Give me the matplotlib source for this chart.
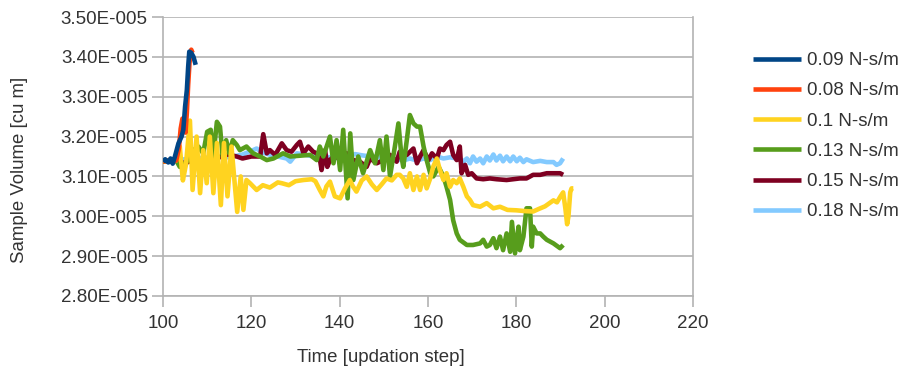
import numpy as np
import matplotlib
matplotlib.use("Agg")
import matplotlib.pyplot as plt
from matplotlib.ticker import FuncFormatter, MultipleLocator

plt.rcParams['font.family'] = ['Liberation Sans', 'DejaVu Sans']

# values, y in units of 1e-5 cu m
x_009 = [100, 100.5, 101.2, 101.7, 102.2, 102.7, 103.5, 104.2, 104.6, 105.0, 105.4, 105.7, 105.95, 106.4, 106.9, 107.4]
y_009 = [3.137, 3.143, 3.135, 3.145, 3.132, 3.150, 3.183, 3.200, 3.217, 3.275, 3.317, 3.375, 3.413, 3.410, 3.400, 3.380]

x_008 = [100, 101, 102, 103, 103.6, 104.0, 104.4, 104.8, 105.1, 105.4, 105.7, 106.0, 106.4, 106.7]
y_008 = [3.137, 3.140, 3.138, 3.140, 3.170, 3.220, 3.245, 3.240, 3.210, 3.260, 3.330, 3.385, 3.418, 3.410]

x_010 = [100, 101, 102, 103, 103.8, 104.5, 105.2, 106.1, 106.7, 107.6, 108.4, 109.1, 109.9, 110.6,
         111.4, 112.2, 113.1, 113.8, 114.6, 115.5, 116.8, 117.6, 118.2, 118.9, 119.7, 121.2, 122.6,
         124.2, 126.0, 126.9, 128.5, 130.0, 131.8, 133.7, 134.5, 135.5, 136.3, 137.0, 137.8, 138.9,
         140.1, 141.2, 142.3, 143.0, 143.8, 145.0, 146.1, 147.3, 148.4, 149.5, 150.6, 151.8, 152.9,
         153.6, 154.4, 155.2, 155.9, 156.7, 157.5, 158.2, 159.0, 159.7, 160.5, 161.2, 162.0, 162.7,
         163.5, 164.2, 165.0, 165.7, 166.5, 167.2, 168.0, 168.8, 169.5, 170.2, 171.8, 173.3, 174.8,
         176.3, 178.0, 180.0, 182.0, 183.8, 185.0, 186.5, 188.4, 189.2, 190.0, 190.6, 191.1, 191.5,
         191.8, 192.2, 192.5, 192.9]
y_010 = [3.137, 3.140, 3.138, 3.140, 3.175, 3.090, 3.130, 3.240, 3.066, 3.200, 3.058, 3.166, 3.083, 3.200,
         3.058, 3.184, 3.028, 3.184, 3.050, 3.175, 3.011, 3.100, 3.016, 3.091, 3.083, 3.066, 3.078,
         3.072, 3.085, 3.083, 3.078, 3.088, 3.091, 3.093, 3.088, 3.066, 3.050, 3.075, 3.087, 3.050,
         3.045, 3.070, 3.091, 3.075, 3.062, 3.090, 3.100, 3.080, 3.066, 3.080, 3.095, 3.090, 3.104,
         3.104, 3.095, 3.074, 3.108, 3.066, 3.100, 3.066, 3.104, 3.070, 3.095, 3.125, 3.145, 3.116,
         3.091, 3.108, 3.074, 3.091, 3.083, 3.095, 3.074, 3.050, 3.041, 3.028, 3.024, 3.033, 3.020,
         3.024, 3.016, 3.015, 3.013, 3.012, 3.018, 3.025, 3.040, 3.035, 3.050, 3.060, 3.020, 2.980,
         3.000, 3.060, 3.070, 3.070]

x_013 = [100, 101, 102, 103, 103.8, 105.4, 106.1, 106.9, 108.0, 109.1, 110.0, 110.8, 111.4, 112.2,
         112.9, 113.5, 114.3, 115.0, 115.8, 116.7, 117.4, 118.9, 120.4, 122.0, 123.5, 125.0, 127.2,
         128.8, 131.0, 133.3, 134.8, 135.5, 136.3, 137.8, 138.6, 139.3, 140.1, 140.8, 141.8, 142.4,
         143.1, 144.2, 145.3, 146.9, 148.0, 149.1, 149.9, 150.6, 151.4, 152.5, 153.3, 154.0, 154.4,
         155.2, 155.9, 156.7, 157.5, 158.2, 159.0, 159.7, 160.5, 161.2, 162.4, 163.5, 164.2, 165.0,
         165.7, 166.5, 167.2, 168.8, 170.2, 171.8, 172.5, 173.3, 174.0, 174.8, 175.5, 176.3, 177.0,
         177.8, 178.6, 179.0, 179.7, 180.5, 180.8, 181.6, 182.3, 183.1, 183.5, 183.8, 184.6, 185.4,
         186.1, 186.9, 188.4, 189.9, 190.6]
y_013 = [3.137, 3.140, 3.138, 3.140, 3.124, 3.137, 3.150, 3.166, 3.175, 3.158, 3.212, 3.217, 3.150, 3.237,
         3.225, 3.150, 3.191, 3.158, 3.191, 3.179, 3.166, 3.175, 3.158, 3.150, 3.141, 3.145, 3.158,
         3.150, 3.152, 3.154, 3.141, 3.175, 3.150, 3.200, 3.133, 3.191, 3.116, 3.217, 3.045, 3.208,
         3.091, 3.150, 3.108, 3.166, 3.133, 3.191, 3.116, 3.200, 3.100, 3.175, 3.233, 3.150, 3.124,
         3.191, 3.254, 3.233, 3.225, 3.225, 3.175, 3.141, 3.108, 3.100, 3.124, 3.100, 3.074, 3.041,
         2.990, 2.957, 2.941, 2.928, 2.928, 2.932, 2.941, 2.924, 2.928, 2.945, 2.920, 2.949, 2.915,
         2.957, 2.911, 2.986, 2.907, 2.974, 2.915, 2.949, 3.020, 3.020, 2.924, 2.974, 2.957, 2.957,
         2.949, 2.941, 2.932, 2.920, 2.928]

x_015 = [100, 102, 103.5, 105.0, 106.5, 108.0, 110.0, 112.0, 114.7, 116.7, 118.0, 120.0, 122.0, 122.7,
         123.5, 124.2, 125.4, 126.9, 128.0, 129.1, 130.3, 131.0, 131.8, 132.9, 134.0, 134.8, 135.5,
         135.9, 136.7, 137.2, 137.8, 138.6, 140.1, 141.6, 143.1, 144.6, 146.1, 146.9, 148.4, 149.9,
         151.4, 152.9, 153.6, 155.2, 156.7, 157.5, 158.2, 159.0, 160.1, 160.9, 162.0, 162.7, 163.5,
         164.2, 165.0, 165.7, 166.5, 167.2, 167.6, 168.4, 169.1, 169.9, 171.0, 172.5, 174.0, 175.5,
         177.8, 179.3, 180.8, 182.3, 183.8, 185.4, 186.9, 188.4, 189.9, 190.6]
y_015 = [3.137, 3.140, 3.138, 3.133, 3.140, 3.135, 3.140, 3.145, 3.155, 3.150, 3.145, 3.150, 3.150, 3.206,
         3.158, 3.166, 3.154, 3.183, 3.166, 3.162, 3.179, 3.187, 3.158, 3.175, 3.162, 3.158, 3.145,
         3.116, 3.166, 3.124, 3.141, 3.150, 3.145, 3.158, 3.141, 3.137, 3.124, 3.145, 3.133, 3.141,
         3.154, 3.137, 3.162, 3.154, 3.170, 3.133, 3.150, 3.166, 3.141, 3.158, 3.145, 3.170, 3.166,
         3.179, 3.187, 3.154, 3.141, 3.175, 3.108, 3.129, 3.104, 3.108, 3.095, 3.093, 3.095, 3.093,
         3.091, 3.093, 3.095, 3.095, 3.104, 3.104, 3.108, 3.108, 3.108, 3.104]

x_018 = [100, 103, 106, 109, 112, 115, 118, 120.4, 121.2, 122.5, 124, 126, 128.0, 128.8, 130.3, 132,
         134, 136, 138, 140, 142, 143.5, 145, 147, 149, 151, 153, 154.4, 155.9, 157.5, 159.0, 160.5,
         162.0, 163.5, 165.0, 166.5, 167.2, 168.0, 168.8, 169.5, 170.2, 171.0, 171.8, 172.5, 173.3,
         174.0, 174.8, 175.5, 176.3, 177.0, 177.8, 178.6, 179.3, 180.1, 180.8, 181.6, 182.3, 183.8,
         185.4, 186.9, 188.4, 189.1, 189.9, 190.6]
y_018 = [3.137, 3.140, 3.145, 3.146, 3.150, 3.148, 3.155, 3.166, 3.170, 3.160, 3.155, 3.150, 3.145, 3.137,
         3.158, 3.155, 3.150, 3.150, 3.148, 3.145, 3.152, 3.156, 3.153, 3.150, 3.148, 3.145, 3.143,
         3.140, 3.145, 3.140, 3.145, 3.141, 3.150, 3.145, 3.148, 3.145, 3.145, 3.137, 3.145, 3.133,
         3.150, 3.137, 3.145, 3.133, 3.150, 3.140, 3.155, 3.140, 3.152, 3.138, 3.150, 3.138, 3.150,
         3.138, 3.147, 3.136, 3.143, 3.136, 3.139, 3.136, 3.136, 3.129, 3.133, 3.145]

labels = ["0.09 N-s/m", "0.08 N-s/m", "0.1 N-s/m", "0.13 N-s/m", "0.15 N-s/m", "0.18 N-s/m"]
colors = ["#004586", "#ff420e", "#ffd320", "#579d1c", "#7e0021", "#83caff"]
series = [(x_009, y_009), (x_008, y_008), (x_010, y_010), (x_013, y_013), (x_015, y_015), (x_018, y_018)]

fig = plt.figure(figsize=(9.11, 3.76), dpi=100)
ax = fig.add_axes([163 / 911, 1 - 296 / 376, 530 / 911, 279 / 376])

grid_c = "#b3b3b3"
text_c = "#333333"

handles = []
for i, ((xs, ys), lab, c) in enumerate(zip(series, labels, colors)):
    h, = ax.plot(xs, np.array(ys) * 1e-5, color=c, lw=3.3, label=lab,
                 zorder=10 - i, solid_joinstyle="round", solid_capstyle="butt")
    handles.append(h)

ax.set_xlim(100, 220)
ax.set_ylim(2.8e-5, 3.5e-5)
ax.xaxis.set_major_locator(MultipleLocator(20))
ax.yaxis.set_major_locator(MultipleLocator(0.1e-5))


def sci(v, pos):
    m, e = f"{v:.2E}".split("E")
    sign = "-" if int(e) < 0 else "+"
    return f"{m}E{sign}{abs(int(e)):03d}"


ax.yaxis.set_major_formatter(FuncFormatter(sci))
ax.grid(axis="y", color=grid_c, lw=1.2, zorder=0)
ax.set_axisbelow(True)
for s in ["left", "right", "bottom"]:
    ax.spines[s].set_color(grid_c)
    ax.spines[s].set_linewidth(1.2)
ax.spines["top"].set_visible(False)
ax.tick_params(axis="both", direction="out", length=8, width=1.2, color=grid_c,
               labelsize=13.5, labelcolor=text_c, pad=3)
ax.tick_params(axis="x", pad=6)

fig.text(381 / 911, 1 - 357 / 376, "Time [updation step]", ha="center", va="center",
         fontsize=13.4, color=text_c)
fig.text(20 / 911, 1 - 170 / 376, "Sample Volume [cu m]", ha="center", va="center",
         rotation=90, fontsize=13.4, color=text_c)

fig.legend(handles=handles, loc="upper left", bbox_to_anchor=(753 / 911, 1 - 52 / 376),
           frameon=False, fontsize=13.5, handlelength=2.56, handletextpad=0.32,
           labelspacing=0.7, borderpad=0, borderaxespad=0, labelcolor=text_c)

fig.savefig("out.png", dpi=100)
